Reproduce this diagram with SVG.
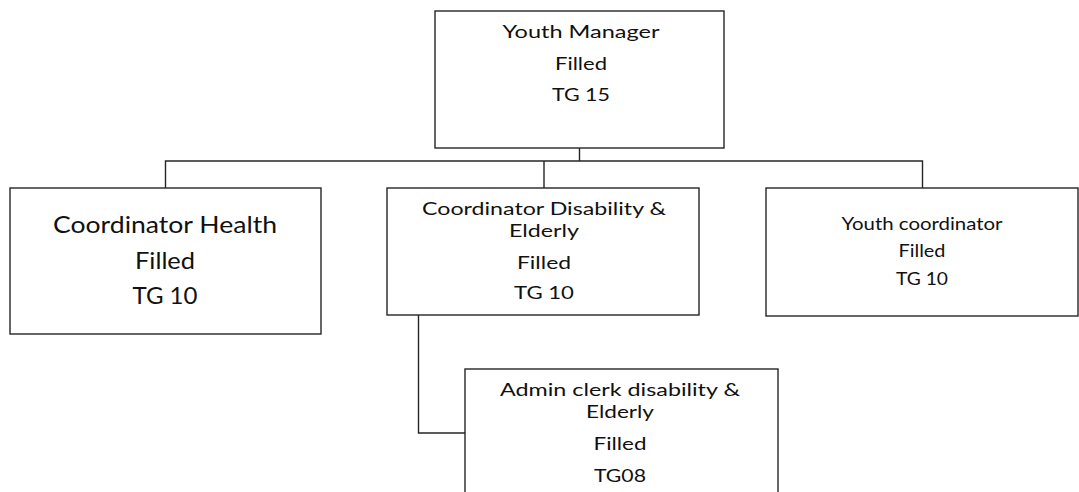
<svg xmlns="http://www.w3.org/2000/svg" width="1079" height="492" viewBox="0 0 1079 492">
<style>
.box{fill:#fff;stroke:#262626;stroke-width:1.4}
.con{fill:none;stroke:#262626;stroke-width:1.4}
text{font-family:Lato,"Open Sans","Liberation Sans",sans-serif;fill:#111;text-anchor:middle}
.s18{font-size:18px}
.s23{font-size:23px}
</style>
<rect width="1079" height="492" fill="#fff"/>
<g id="connectors">
<path class="con" d="M579.5 148 V161 M165.5 188 V161 H922.5 V188 M544 161 V188"/>
<path class="con" d="M418.5 315 V433 H465"/>
</g>
<g id="youth-manager">
<rect class="box" x="435" y="11" width="289" height="137"/>
<text class="s18" x="581" y="38" textLength="157" lengthAdjust="spacingAndGlyphs">Youth Manager</text>
<text class="s18" x="581" y="70" textLength="52" lengthAdjust="spacingAndGlyphs">Filled</text>
<text class="s18" x="581" y="101" textLength="58" lengthAdjust="spacingAndGlyphs">TG 15</text>
</g>
<g id="coordinator-health">
<rect class="box" x="10" y="188" width="311" height="146"/>
<text class="s23" x="165" y="233" textLength="224" lengthAdjust="spacingAndGlyphs">Coordinator Health</text>
<text class="s23" x="165" y="269" textLength="60" lengthAdjust="spacingAndGlyphs">Filled</text>
<text class="s23" x="165" y="304" textLength="65" lengthAdjust="spacingAndGlyphs">TG 10</text>
</g>
<g id="coordinator-disability">
<rect class="box" x="387" y="188" width="312" height="127"/>
<text class="s18" x="544" y="215" textLength="244" lengthAdjust="spacingAndGlyphs">Coordinator Disability &amp;</text>
<text class="s18" x="544" y="237" textLength="70" lengthAdjust="spacingAndGlyphs">Elderly</text>
<text class="s18" x="544" y="269" textLength="54" lengthAdjust="spacingAndGlyphs">Filled</text>
<text class="s18" x="544" y="299" textLength="60" lengthAdjust="spacingAndGlyphs">TG 10</text>
</g>
<g id="youth-coordinator">
<rect class="box" x="766" y="188" width="312" height="128"/>
<text class="s18" x="922" y="230" textLength="161" lengthAdjust="spacingAndGlyphs">Youth coordinator</text>
<text class="s18" x="922" y="257" textLength="47" lengthAdjust="spacingAndGlyphs">Filled</text>
<text class="s18" x="922" y="285" textLength="52" lengthAdjust="spacingAndGlyphs">TG 10</text>
</g>
<g id="admin-clerk">
<rect class="box" x="465" y="369" width="313" height="140"/>
<text class="s18" x="620" y="396" textLength="240" lengthAdjust="spacingAndGlyphs">Admin clerk disability &amp;</text>
<text class="s18" x="620" y="418" textLength="68" lengthAdjust="spacingAndGlyphs">Elderly</text>
<text class="s18" x="620" y="450" textLength="53" lengthAdjust="spacingAndGlyphs">Filled</text>
<text class="s18" x="620" y="482" textLength="52" lengthAdjust="spacingAndGlyphs">TG08</text>
</g>
</svg>
